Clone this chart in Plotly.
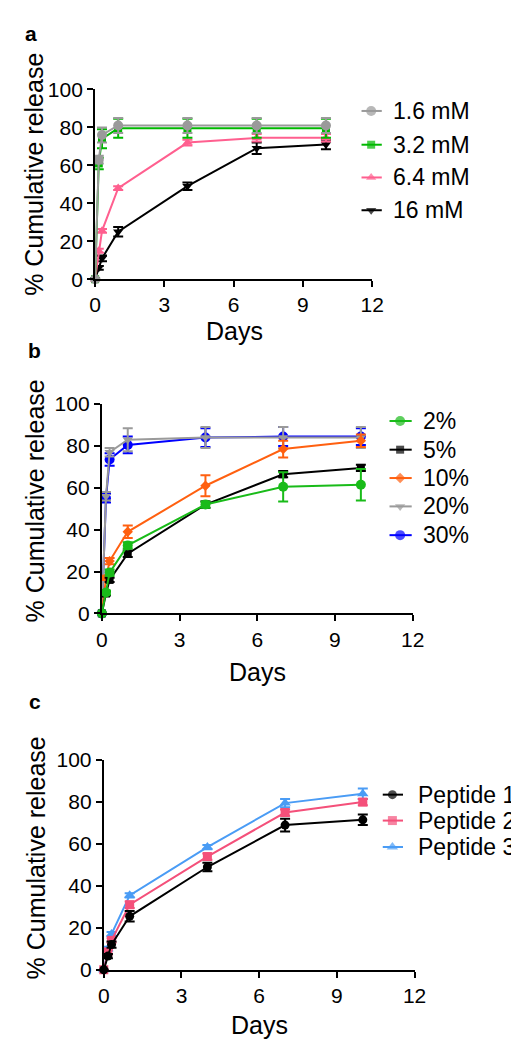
import plotly.graph_objects as go

W, H = 519, 1050
FONT = "Arial, Liberation Sans, sans-serif"

# ---------------- data ----------------
days = [0, 0.16, 0.3, 1, 4, 7, 10]
x_ticks = [0, 3, 6, 9, 12]
y_ticks = [0, 20, 40, 60, 80, 100]

# panel a
a_names = ["1.6 mM", "3.2 mM", "6.4 mM", "16 mM"]
a_1p6 = [0, 63, 76, 81, 81, 81, 81]
a_1p6_err = [0, 2, 4, 4, 4, 4, 4]
a_3p2 = [0, 61, 74, 79.5, 79.5, 79.5, 79.5]
a_3p2_err = [0, 3, 5, 5, 5, 5, 5]
a_6p4 = [0, 15, 25.5, 48, 72, 74.5, 74.5]
a_6p4_err = [0, 1, 1, 1, 1.5, 2, 2]
a_16 = [0, 6, 11, 25, 49, 69, 71]
a_16_err = [0, 1, 1.5, 2.5, 2, 3, 2.5]

# panel b
b_names = ["2%", "5%", "10%", "20%", "30%"]
b_2 = [0, 10, 19.5, 32.5, 52, 60.5, 61.5]
b_2_err = [0, 1, 1.5, 1.5, 1.5, 7, 7.5]
b_5 = [0, 9.5, 16, 28.5, 52, 66.5, 69.5]
b_5_err = [0, 1, 1, 1.5, 1.5, 1.5, 1.5]
b_10 = [0, 17, 25, 39, 61, 78.5, 82.5]
b_10_err = [0, 1, 1.5, 3, 5, 4, 3]
b_20 = [0, 56, 77, 83, 84, 84, 84]
b_20_err = [0, 2, 2, 5.5, 5, 5, 5]
b_30 = [0, 55, 73.5, 80.5, 84, 84.5, 84.5]
b_30_err = [0, 2, 3, 4, 4.5, 4.5, 4]

# panel c
c_names = ["Peptide 1", "Peptide 2", "Peptide 3"]
c_p1 = [0, 6.5, 12, 25.5, 49, 69, 71.5]
c_p1_err = [0, 1, 1.5, 2.5, 2, 3, 2.5]
c_p2 = [0, 8.5, 14, 31, 54, 75, 80]
c_p2_err = [0, 1, 1, 1.5, 1.5, 1.5, 1.5]
c_p3 = [0, 10, 17, 35.5, 58.5, 79.5, 84]
c_p3_err = [0, 1, 1, 1, 1, 2, 2.5]

# ---------------- styles ----------------
GRAY = "#9a9a9a"
GREEN_A = "#00b800"
PINK_A = "#ff5f8f"
BLACK = "#000000"
GREEN_B = "#19bb19"
ORANGE = "#ff6010"
BLUE = "#0000ff"
PINK_C = "#f4507a"
BLUE_C = "#4a9cf5"

panels = [
    dict(
        xa="x", ya="y",
        xpx=(84, 371), ypx=(71, 265),
        series=[
            (a_names[0], a_1p6, a_1p6_err, GRAY, "circle", 10),
            (a_names[1], a_3p2, a_3p2_err, GREEN_A, "square", 8),
            (a_names[2], a_6p4, a_6p4_err, PINK_A, "triangle-up", 9),
            (a_names[3], a_16, a_16_err, BLACK, "triangle-down", 9),
        ],
        leg=dict(x0=360, xm=370, x1=381, xt=391, rows=[93, 127.5, 161, 194.5]),
        label=("a", 18, 14), days=(228, 318), ytitle=(20, 158),
    ),
    dict(
        xa="x2", ya="y2",
        xpx=(91, 413), ypx=(392.7, 606.7),
        series=[
            (b_names[0], b_2, b_2_err, GREEN_B, "circle", 10),
            (b_names[1], b_5, b_5_err, BLACK, "square", 8),
            (b_names[2], b_10, b_10_err, ORANGE, "diamond", 8),
            (b_names[3], b_20, b_20_err, GRAY, "triangle-down", 9),
            (b_names[4], b_30, b_30_err, BLUE, "circle", 10),
        ],
        leg=dict(x0=389, xm=400, x1=412, xt=422, rows=[410, 439.3, 468.3, 497.3, 526.7]),
        label=("b", 21, 338), days=(252, 667), ytitle=(22, 492),
    ),
    dict(
        xa="x3", ya="y3",
        xpx=(93, 415), ypx=(756.7, 971),
        series=[
            (c_names[0], c_p1, c_p1_err, BLACK, "circle", 9),
            (c_names[1], c_p2, c_p2_err, PINK_C, "square", 9),
            (c_names[2], c_p3, c_p3_err, BLUE_C, "triangle-up", 10),
        ],
        leg=dict(x0=382, xm=392, x1=403, xt=416, rows=[792, 818.5, 845.5]),
        label=("c", 22, 697), days=(254, 1028), ytitle=(23, 857),
    ),
]

fig = go.Figure()
annotations = []
layout = {}

for i, p in enumerate(panels):
    # data traces: draw last series first so the first series is on top
    for name, vals, err, color, sym, size in reversed(p["series"]):
        fig.add_trace(go.Scatter(
            x=days, y=vals, name=name, mode="lines+markers",
            line=dict(color=color, width=2),
            marker=dict(symbol=sym, size=size, color=color, line=dict(width=0)),
            error_y=dict(type="data", array=err, visible=True, color=color,
                         thickness=2, width=5),
            cliponaxis=False, showlegend=False,
            xaxis=p["xa"], yaxis=p["ya"],
        ))
    # legend glyphs and texts
    lg = p["leg"]
    for (name, vals, err, color, sym, size), row in zip(p["series"], lg["rows"]):
        fig.add_trace(go.Scatter(
            x=[lg["x0"], lg["xm"], lg["x1"]], y=[row, row, row],
            mode="lines+markers",
            line=dict(color=color, width=2),
            marker=dict(symbol=sym, size=[0, size, 0], color=color, line=dict(width=0)),
            showlegend=False, hoverinfo="skip", cliponaxis=False,
            xaxis="x4", yaxis="y4",
        ))
        annotations.append(dict(
            x=lg["xt"], y=row, xref="x4", yref="y4", text=name, showarrow=False,
            xanchor="left", yanchor="middle", font=dict(family=FONT, size=23, color="black"),
        ))
    # axes
    sfx = "" if i == 0 else str(i + 1)
    x0, x1 = p["xpx"]
    ytop, ybot = p["ypx"]
    axis_common = dict(
        showline=True, linewidth=2, linecolor="black", ticks="outside", ticklen=6,
        tickwidth=2, tickcolor="black", showgrid=False, zeroline=False,
        tickfont=dict(family=FONT, size=21, color="black"), fixedrange=True,
    )
    layout["xaxis" + sfx] = dict(
        domain=[x0 / W, x1 / W], range=[0, 12], tickvals=x_ticks,
        anchor=p["ya"], **axis_common,
    )
    layout["yaxis" + sfx] = dict(
        domain=[(H - ybot) / H, (H - ytop) / H], range=[0, 100], tickvals=y_ticks,
        anchor=p["xa"], **axis_common,
    )
    # titles and panel labels
    lab, lx, ly = p["label"]
    annotations.append(dict(x=lx, y=ly, xref="x4", yref="y4", text="<b>%s</b>" % lab,
                            showarrow=False, xanchor="center", yanchor="middle",
                            font=dict(family=FONT, size=21, color="black")))
    dx, dy = p["days"]
    annotations.append(dict(x=dx, y=dy, xref="x4", yref="y4", text="Days",
                            showarrow=False, xanchor="center", yanchor="middle",
                            font=dict(family=FONT, size=25, color="black")))
    tx, ty = p["ytitle"]
    annotations.append(dict(x=tx, y=ty, xref="x4", yref="y4", text="% Cumulative release",
                            textangle=-90, showarrow=False, xanchor="center", yanchor="middle",
                            font=dict(family=FONT, size=25, color="black")))

layout["xaxis4"] = dict(domain=[0, 1], range=[0, W], visible=False, fixedrange=True, anchor="y4")
layout["yaxis4"] = dict(domain=[0, 1], range=[H, 0], visible=False, fixedrange=True, anchor="x4")

fig.update_layout(
    width=W, height=H, margin=dict(l=0, r=0, t=0, b=0),
    paper_bgcolor="white", plot_bgcolor="rgba(0,0,0,0)",
    showlegend=False, annotations=annotations,
    font=dict(family=FONT, color="black"),
    **layout,
)

fig.write_html("out.html")
